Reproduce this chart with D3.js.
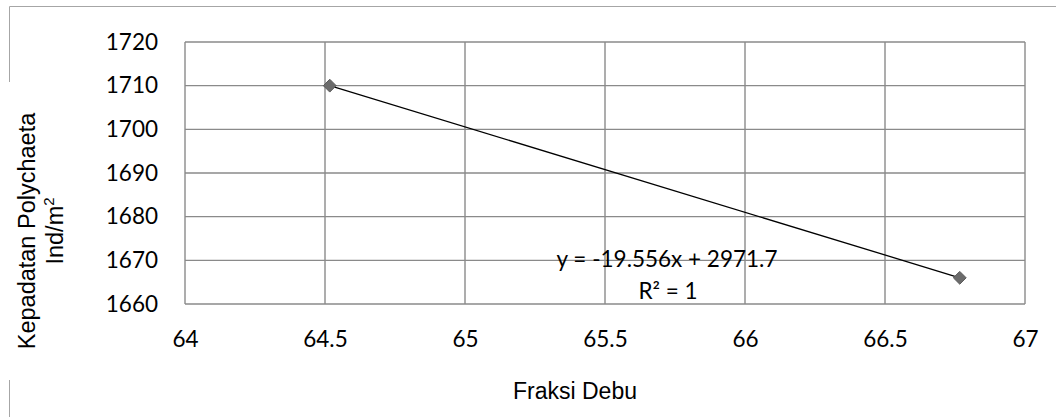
<!DOCTYPE html>
<html>
<head>
<meta charset="utf-8">
<script src="https://cdn.jsdelivr.net/npm/d3@7"></script>
<style>
  html, body { margin: 0; padding: 0; background: #fff; }
  svg { display: block; }
</style>
</head>
<body>
<svg id="chart" width="1056" height="417"></svg>
<script>
// Data: silt fraction vs. polychaete density
const fraksiDebu = [64.517, 66.767];
const kepadatan = [1710, 1666];
const xTicks = [64, 64.5, 65, 65.5, 66, 66.5, 67];
const yTicks = [1660, 1670, 1680, 1690, 1700, 1710, 1720];
const trendSlope = -19.556;
const trendIntercept = 2971.7;
const equationLines = ["y = -19.556x + 2971.7", "R² = 1"];

const svg = d3.select("#chart");
const W = 1056, H = 417;
const plot = { left: 185, right: 1025, top: 42, bottom: 304 };

const tickFont = "Lato, 'Open Sans', sans-serif";
const titleFont = "'Liberation Sans', Arial, sans-serif";

const x = d3.scaleLinear().domain([64, 67]).range([plot.left, plot.right]);
const y = d3.scaleLinear().domain([1660, 1720]).range([plot.bottom, plot.top]);

// Outer chart frame (top and left edges)
svg.append("line")
  .attr("x1", 9.5).attr("x2", W).attr("y1", 6.5).attr("y2", 6.5)
  .attr("stroke", "#a6a6a6").attr("stroke-width", 1);
svg.append("line")
  .attr("x1", 9.5).attr("x2", 9.5).attr("y1", 6.5).attr("y2", H)
  .attr("stroke", "#a6a6a6").attr("stroke-width", 1);

// Gridlines
const grid = svg.append("g").attr("stroke", "#8a8a8a").attr("stroke-width", 1.4);
grid.selectAll("line.h").data(yTicks).join("line")
  .attr("class", "h")
  .attr("x1", plot.left).attr("x2", plot.right)
  .attr("y1", d => y(d)).attr("y2", d => y(d));
grid.selectAll("line.v").data(xTicks).join("line")
  .attr("class", "v")
  .attr("y1", plot.top).attr("y2", plot.bottom)
  .attr("x1", d => x(d)).attr("x2", d => x(d));

// Y axis labels
const yAxis = d3.axisLeft(y).tickValues(yTicks).tickSize(0).tickPadding(27)
  .tickFormat(d3.format("d"));
const gy = svg.append("g").attr("transform", `translate(${plot.left},0)`).call(yAxis);
gy.select(".domain").remove();
gy.selectAll("text").attr("font-family", tickFont).attr("font-size", 22.5)
  .attr("fill", "#000");

// X axis labels
const xAxis = d3.axisBottom(x).tickValues(xTicks).tickSize(0).tickPadding(27)
  .tickFormat(d => String(d));
const gx = svg.append("g").attr("transform", `translate(0,${plot.bottom})`).call(xAxis);
gx.select(".domain").remove();
gx.selectAll("text").attr("font-family", tickFont).attr("font-size", 22.5)
  .attr("fill", "#000");

// Linear trendline across the data range
const xr = d3.extent(fraksiDebu);
svg.append("line")
  .attr("x1", x(xr[0])).attr("y1", y(trendSlope * xr[0] + trendIntercept))
  .attr("x2", x(xr[1])).attr("y2", y(trendSlope * xr[1] + trendIntercept))
  .attr("stroke", "#000").attr("stroke-width", 1.3);

// Data markers
const pts = fraksiDebu.map((v, i) => [v, kepadatan[i]]);
svg.append("g").selectAll("path").data(pts).join("path")
  .attr("d", d3.symbol().type(d3.symbolDiamond2).size(105))
  .attr("transform", d => `translate(${x(d[0])},${y(d[1])})`)
  .attr("fill", "#6b6b6b").attr("stroke", "#5a5a5a").attr("stroke-width", 1);

// Trendline equation
const eq = svg.append("g").attr("font-family", tickFont).attr("font-size", 22.5)
  .attr("text-anchor", "middle").attr("fill", "#000");
eq.append("text").attr("x", 667).attr("y", 267).text(equationLines[0]);
eq.append("text").attr("x", 668).attr("y", 299).text(equationLines[1]);

// Axis titles
svg.append("text")
  .attr("x", 575).attr("y", 399)
  .attr("text-anchor", "middle")
  .attr("font-family", titleFont).attr("font-size", 23)
  .attr("fill", "#000")
  .text("Fraksi Debu");

// Background behind the rotated title interrupts the frame edge
svg.append("rect").attr("x", 5).attr("y", 82).attr("width", 9).attr("height", 298)
  .attr("fill", "#fff");

const yt = svg.append("text")
  .attr("transform", "translate(0,231) rotate(-90)")
  .attr("text-anchor", "middle")
  .attr("font-family", titleFont).attr("font-size", 23.5)
  .attr("fill", "#000");
yt.append("tspan").attr("x", 0).attr("y", 35).text("Kepadatan Polychaeta");
const l2 = yt.append("tspan").attr("x", 0).attr("y", 63);
l2.append("tspan").text("Ind/m");
l2.append("tspan").attr("dy", -9).attr("font-size", 15).text("2");
</script>
</body>
</html>
